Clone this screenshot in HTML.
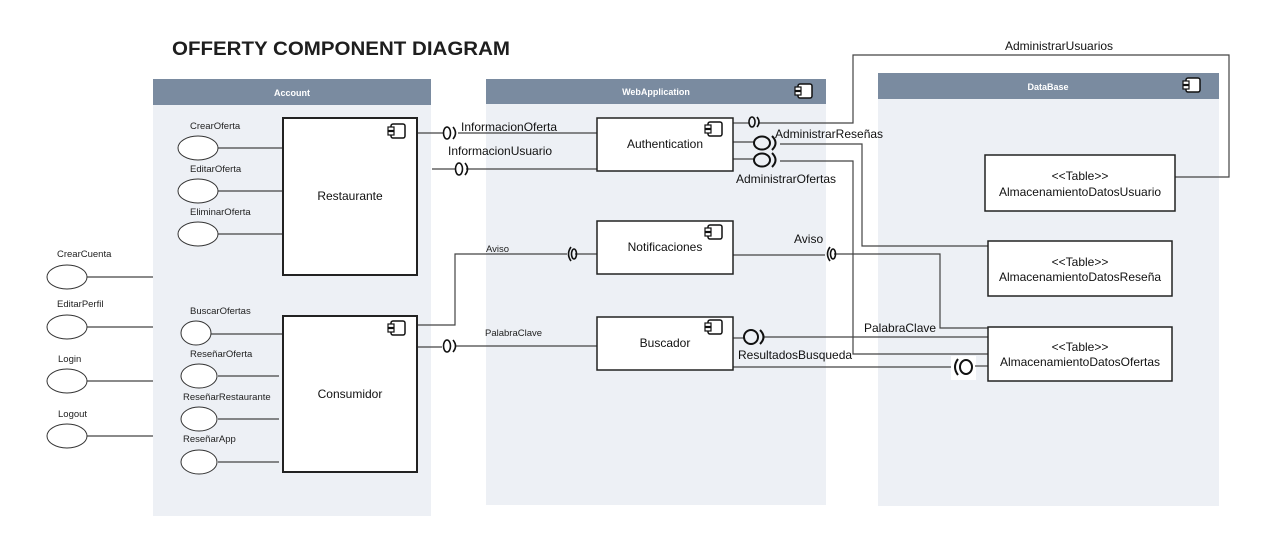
<!DOCTYPE html>
<html><head><meta charset="utf-8"><style>
html,body{margin:0;padding:0;background:#fff;}
svg{display:block;font-family:"Liberation Sans",Arial,sans-serif;}
</style></head><body>
<svg width="1278" height="556" viewBox="0 0 1278 556" xmlns="http://www.w3.org/2000/svg">
<defs>
<g id="ci"><rect x="3" y="0" width="14" height="14" rx="2" fill="#fff" stroke="#111" stroke-width="1.5"/><rect x="0" y="3" width="6" height="3.5" fill="#fff" stroke="#111" stroke-width="1.2"/><rect x="0" y="7.5" width="6" height="3.5" fill="#fff" stroke="#111" stroke-width="1.2"/></g>
</defs>
<text x="172" y="55" font-size="19" font-weight="bold" fill="#1e1e1e" textLength="338" lengthAdjust="spacingAndGlyphs">OFFERTY COMPONENT DIAGRAM</text>

<!-- containers -->
<rect x="153" y="79" width="278" height="437" fill="#edf0f5"/>
<rect x="153" y="79" width="278" height="26" fill="#7a8ba0"/>
<text x="292" y="96" font-size="9" font-weight="bold" fill="#fff" text-anchor="middle">Account</text>
<rect x="486" y="79" width="340" height="426" fill="#edf0f5"/>
<rect x="486" y="79" width="340" height="25" fill="#7a8ba0"/>
<text x="656" y="95" font-size="9" font-weight="bold" fill="#fff" text-anchor="middle">WebApplication</text>
<use href="#ci" x="795" y="84"/>
<rect x="878" y="73" width="341" height="433" fill="#edf0f5"/>
<rect x="878" y="73" width="341" height="26" fill="#7a8ba0"/>
<text x="1048" y="90" font-size="9" font-weight="bold" fill="#fff" text-anchor="middle">DataBase</text>
<use href="#ci" x="1183" y="78"/>

<g stroke="#444" stroke-width="1.2" fill="none">
<!-- use cases lines -->
<line x1="218" y1="148" x2="286" y2="148"/>
<line x1="218" y1="191" x2="286" y2="191"/>
<line x1="218" y1="234" x2="286" y2="234"/>
<line x1="87" y1="277" x2="153" y2="277"/>
<line x1="87" y1="327" x2="153" y2="327"/>
<line x1="87" y1="381" x2="153" y2="381"/>
<line x1="87" y1="436" x2="153" y2="436"/>
<line x1="211" y1="334" x2="283" y2="334"/>
<line x1="218" y1="376" x2="279" y2="376"/>
<line x1="218" y1="419" x2="279" y2="419"/>
<line x1="218" y1="462" x2="279" y2="462"/>
<!-- connectors -->
<line x1="417" y1="133" x2="443" y2="133"/>
<line x1="458" y1="133" x2="597" y2="133"/>
<line x1="432" y1="169" x2="455" y2="169"/>
<line x1="466" y1="169" x2="597" y2="169"/>
<line x1="733" y1="123" x2="749" y2="123"/>
<polyline points="758,123 853,123 853,55 1229,55 1229,177 1175,177"/>
<line x1="733" y1="142" x2="754" y2="142"/>
<polyline points="780,144 862,144 862,246 988,246"/>
<line x1="733" y1="159" x2="754" y2="159"/>
<polyline points="780,161 853,161 853,354 988,354"/>
<polyline points="417,325 455,325 455,254 567,254"/>
<line x1="575" y1="254" x2="597" y2="254"/>
<line x1="733" y1="255" x2="825" y2="255"/>
<polyline points="834,254 940,254 940,328 988,328"/>
<line x1="417" y1="347" x2="442" y2="347"/>
<line x1="456" y1="346" x2="597" y2="346"/>
<line x1="733" y1="338" x2="744" y2="338"/>
<line x1="764" y1="337" x2="988" y2="337"/>
<line x1="733" y1="367" x2="955" y2="367"/>
</g>
<rect x="951" y="356" width="25" height="24" fill="#fff"/>
<line x1="975" y1="366" x2="988" y2="366" stroke="#444" stroke-width="1.2"/>

<!-- interface symbols -->
<g stroke="#111" stroke-width="1.6" fill="none">
<ellipse cx="447" cy="133" rx="3.5" ry="6"/><path d="M453,127 Q458,133 453,139"/>
<ellipse cx="459" cy="169" rx="3.5" ry="6"/><path d="M465,163 Q470,169 465,175"/>
<ellipse cx="752" cy="122" rx="3" ry="5"/><path d="M757,117 Q761,122 757,127"/>
<ellipse cx="762" cy="143" rx="8" ry="6.5" stroke-width="2"/><path d="M772,136 Q779,143 772,150" stroke-width="2"/>
<ellipse cx="762" cy="160" rx="8" ry="6.5" stroke-width="2"/><path d="M772,153 Q779,160 772,167" stroke-width="2"/>
<path d="M571,247 Q566,254 571,261"/><ellipse cx="574" cy="254" rx="2.5" ry="5"/>
<path d="M830,247 Q825,254 830,261"/><ellipse cx="833" cy="254" rx="2.5" ry="5"/>
<ellipse cx="447" cy="346" rx="3.5" ry="6"/><path d="M453,340 Q458,346 453,352"/>
<ellipse cx="751" cy="337" rx="7" ry="7" stroke-width="2"/><path d="M760,330 Q767,337 760,344" stroke-width="2"/>
<path d="M958,359 Q952,367 958,375" stroke-width="2"/><ellipse cx="966" cy="367" rx="6" ry="7" stroke-width="2"/>
</g>

<!-- use case ellipses -->
<g fill="#fff" stroke="#333" stroke-width="1">
<ellipse cx="198" cy="148" rx="20" ry="12"/>
<ellipse cx="198" cy="191" rx="20" ry="12"/>
<ellipse cx="198" cy="234" rx="20" ry="12"/>
<ellipse cx="67" cy="277" rx="20" ry="12"/>
<ellipse cx="67" cy="327" rx="20" ry="12"/>
<ellipse cx="67" cy="381" rx="20" ry="12"/>
<ellipse cx="67" cy="436" rx="20" ry="12"/>
<ellipse cx="196" cy="333" rx="15" ry="12"/>
<ellipse cx="199" cy="376" rx="18" ry="12"/>
<ellipse cx="199" cy="419" rx="18" ry="12"/>
<ellipse cx="199" cy="462" rx="18" ry="12"/>
</g>
<g font-size="9.5" fill="#222">
<text x="190" y="129">CrearOferta</text>
<text x="190" y="172">EditarOferta</text>
<text x="190" y="215">EliminarOferta</text>
<text x="57" y="257">CrearCuenta</text>
<text x="57" y="307">EditarPerfil</text>
<text x="58" y="362">Login</text>
<text x="58" y="417">Logout</text>
<text x="190" y="314">BuscarOfertas</text>
<text x="190" y="357">ReseñarOferta</text>
<text x="183" y="400">ReseñarRestaurante</text>
<text x="183" y="442">ReseñarApp</text>
<text x="486" y="252">Aviso</text>
<text x="485" y="336">PalabraClave</text>
</g>

<!-- components -->
<g fill="#fff" stroke="#222" stroke-width="2">
<rect x="283" y="118" width="134" height="157"/>
<rect x="283" y="316" width="134" height="156"/>
<rect x="597" y="118" width="136" height="53" stroke-width="1.5"/>
<rect x="597" y="221" width="136" height="53" stroke-width="1.5"/>
<rect x="597" y="317" width="136" height="53" stroke-width="1.5"/>
<rect x="985" y="155" width="190" height="56" stroke-width="1.5"/>
<rect x="988" y="241" width="184" height="55" stroke-width="1.5"/>
<rect x="988" y="327" width="184" height="54" stroke-width="1.5"/>
</g>
<use href="#ci" x="388" y="124"/>
<use href="#ci" x="388" y="321"/>
<use href="#ci" x="705" y="122"/>
<use href="#ci" x="705" y="225"/>
<use href="#ci" x="705" y="320"/>

<g font-size="12" fill="#111" text-anchor="middle">
<text x="350" y="200">Restaurante</text>
<text x="350" y="398">Consumidor</text>
<text x="665" y="148">Authentication</text>
<text x="665" y="251">Notificaciones</text>
<text x="665" y="347">Buscador</text>
<text x="1080" y="180">&lt;&lt;Table&gt;&gt;</text>
<text x="1080" y="196">AlmacenamientoDatosUsuario</text>
<text x="1080" y="266">&lt;&lt;Table&gt;&gt;</text>
<text x="1080" y="281">AlmacenamientoDatosReseña</text>
<text x="1080" y="351">&lt;&lt;Table&gt;&gt;</text>
<text x="1080" y="366">AlmacenamientoDatosOfertas</text>
</g>
<g font-size="12" fill="#111">
<text x="461" y="131">InformacionOferta</text>
<text x="448" y="155">InformacionUsuario</text>
<text x="1005" y="50">AdministrarUsuarios</text>
<text x="775" y="138">AdministrarReseñas</text>
<text x="736" y="183">AdministrarOfertas</text>
<text x="794" y="243">Aviso</text>
<text x="864" y="332">PalabraClave</text>
<text x="738" y="359">ResultadosBusqueda</text>
</g>
</svg>
</body></html>
